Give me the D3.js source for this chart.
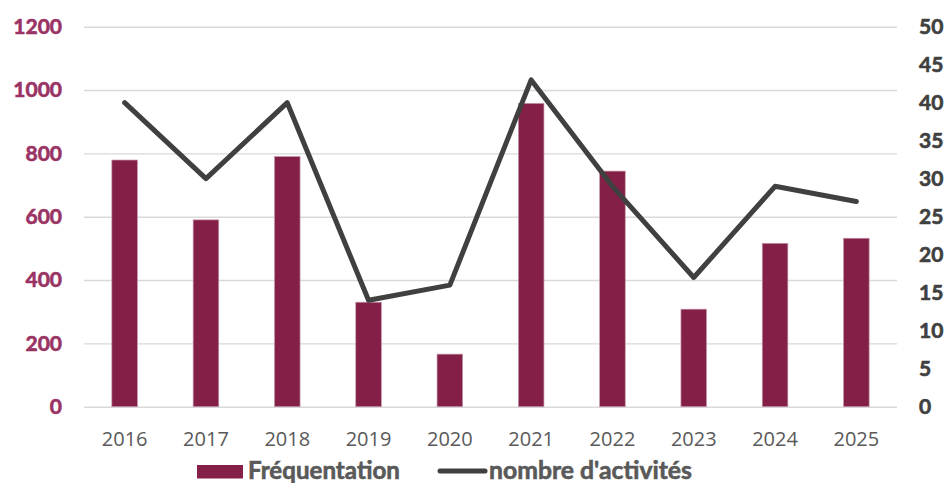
<!DOCTYPE html>
<html>
<head>
<meta charset="utf-8">
<script src="https://cdn.jsdelivr.net/npm/d3@7"></script>
<style>
  html, body { margin: 0; padding: 0; background: #fff; }
  svg { display: block; }
</style>
</head>
<body>
<svg id="chart" width="946" height="483"></svg>
<script>
// Yearly data
const years = ["2016", "2017", "2018", "2019", "2020", "2021", "2022", "2023", "2024", "2025"];
const frequentation = [779, 590, 790, 330, 166, 958, 744, 308, 516, 532];
const activites = [40, 30, 40, 14, 16, 43, 29, 17, 29, 27];
const leftTicks = [0, 200, 400, 600, 800, 1000, 1200];
const rightTicks = [0, 5, 10, 15, 20, 25, 30, 35, 40, 45, 50];

const W = 946, H = 483;
const margin = { top: 26.7, right: 49, bottom: 76.3, left: 84 };
const innerW = W - margin.left - margin.right;
const innerH = H - margin.top - margin.bottom;

const BAR_COLOR = "#841F47";
const LINE_COLOR = "#404040";
const NUM_FONT = "Lato, 'Open Sans', sans-serif";

const svg = d3.select("#chart");
const g = svg.append("g").attr("transform", `translate(${margin.left},${margin.top})`);

const x = d3.scaleBand().domain(years).range([0, innerW]).padding(0);
const yL = d3.scaleLinear().domain([0, 1200]).range([innerH, 0]);
const yR = d3.scaleLinear().domain([0, 50]).range([innerH, 0]);

// Heavy label style: bold face plus a thin outline in the same colour
function heavy(sel, color, size) {
  sel.attr("font-family", NUM_FONT).attr("font-weight", "bold")
    .attr("font-size", size).attr("fill", color)
    .attr("stroke", color).attr("stroke-width", 0.6);
}

// Horizontal gridlines
const grid = g.append("g")
  .call(d3.axisLeft(yL).tickValues(leftTicks).tickSize(-innerW).tickFormat(""));
grid.select(".domain").remove();
grid.selectAll(".tick line").attr("stroke", "#d9d9d9").attr("stroke-width", 1.4);

// Left axis labels
const axL = g.append("g")
  .call(d3.axisLeft(yL).tickValues(leftTicks).tickSize(0).tickPadding(22).tickFormat(d3.format("d")));
axL.select(".domain").remove();
heavy(axL.selectAll("text"), "#9A3264", 21);

// Right axis labels
const axR = g.append("g").attr("transform", `translate(${innerW},0)`)
  .call(d3.axisRight(yR).tickValues(rightTicks).tickSize(0).tickPadding(22).tickFormat(d3.format("d")));
axR.select(".domain").remove();
heavy(axR.selectAll("text"), "#404040", 21);

// Bottom axis labels
const axB = g.append("g").attr("transform", `translate(0,${innerH})`)
  .call(d3.axisBottom(x).tickSize(0).tickPadding(25));
axB.select(".domain").remove();
axB.selectAll("text")
  .attr("font-family", "'Open Sans', sans-serif")
  .attr("font-size", 20).attr("fill", "#595959");

// Bars
const barW = x.bandwidth() * 0.315;
g.append("g").selectAll("rect")
  .data(years)
  .join("rect")
  .attr("x", (d) => x(d) + x.bandwidth() / 2 - barW / 2)
  .attr("y", (d, i) => yL(frequentation[i]))
  .attr("width", barW)
  .attr("height", (d, i) => innerH - yL(frequentation[i]))
  .attr("fill", BAR_COLOR)
  .attr("stroke", "#c49aae")
  .attr("stroke-width", 0.7);

// Activity line
const line = d3.line()
  .x((d, i) => x(years[i]) + x.bandwidth() / 2)
  .y((d) => yR(d));
g.append("path")
  .datum(activites)
  .attr("d", line)
  .attr("fill", "none")
  .attr("stroke", LINE_COLOR)
  .attr("stroke-width", 5)
  .attr("stroke-linejoin", "round")
  .attr("stroke-linecap", "round");

// Legend
const legend = svg.append("g");
legend.append("rect")
  .attr("x", 197).attr("y", 465).attr("width", 46).attr("height", 13.5)
  .attr("fill", BAR_COLOR);
const t1 = legend.append("text")
  .attr("x", 248).attr("y", 479)
  .text("Fréquentation");
heavy(t1, "#595959", 24);
legend.append("line")
  .attr("x1", 440).attr("x2", 485).attr("y1", 471).attr("y2", 471)
  .attr("stroke", LINE_COLOR).attr("stroke-width", 5).attr("stroke-linecap", "round");
const t2 = legend.append("text")
  .attr("x", 489).attr("y", 479)
  .text("nombre d'activités");
heavy(t2, "#595959", 24);

// Size legend labels to their target widths
[[t1, 152], [t2, 203]].forEach(([t, w]) => {
  const len = t.node().getComputedTextLength();
  t.attr("font-size", 24 * w / len);
});
</script>
</body>
</html>
